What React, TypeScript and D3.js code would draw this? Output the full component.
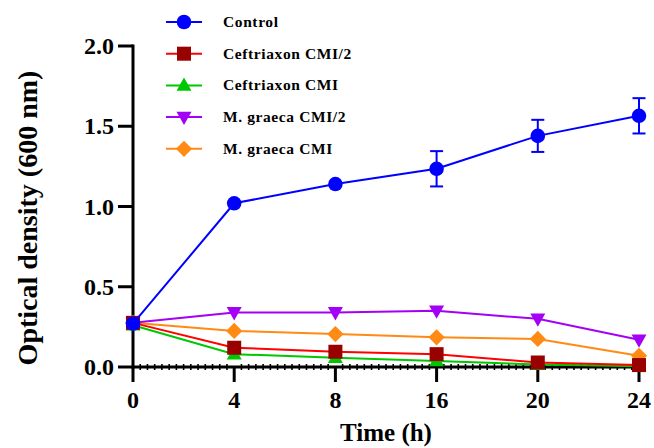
import React from "react";
import * as d3 from "d3";

const timeLabels = ["0", "4", "8", "16", "20", "24"];
const controlValues = [0.27, 1.02, 1.14, 1.235, 1.44, 1.565];
const controlErrors = [0, 0, 0, 0.11, 0.1, 0.11];
const ceftriaxonHalf = [0.275, 0.12, 0.095, 0.08, 0.028, 0.012];
const ceftriaxonFull = [0.26, 0.08, 0.058, 0.038, 0.015, 0.005];
const graecaHalf = [0.275, 0.34, 0.34, 0.35, 0.3, 0.17];
const graecaFull = [0.275, 0.225, 0.205, 0.185, 0.175, 0.07];
const yTicks = [0, 0.5, 1.0, 1.5, 2.0];

type Series = {
  name: string;
  values: number[];
  errors?: number[];
  line: string;
  fill: string;
  shape: "circle" | "square" | "triangle" | "triangleDown" | "diamond";
};

const seriesList: Series[] = [
  { name: "Control", values: controlValues, errors: controlErrors, line: "#0000FF", fill: "#0000FF", shape: "circle" },
  { name: "Ceftriaxon CMI/2", values: ceftriaxonHalf, line: "#FF0000", fill: "#990000", shape: "square" },
  { name: "Ceftriaxon CMI", values: ceftriaxonFull, line: "#00C800", fill: "#00C800", shape: "triangle" },
  { name: "M. graeca CMI/2", values: graecaHalf, line: "#A400F5", fill: "#A400F5", shape: "triangleDown" },
  { name: "M. graeca CMI", values: graecaFull, line: "#FF8A14", fill: "#FF8A14", shape: "diamond" },
];

const drawOrder = [4, 3, 2, 1, 0];

function Marker({ shape, x, y, fill, s }: { shape: string; x: number; y: number; fill: string; s: number }) {
  if (shape === "circle") return <circle cx={x} cy={y} r={s * 0.52} fill={fill} />;
  if (shape === "square")
    return <rect x={x - s / 2} y={y - s / 2} width={s} height={s} fill={fill} />;
  if (shape === "triangle") {
    const h = s * 0.95;
    return <path d={`M${x},${y - h * 0.6}L${x + s / 2 + 0.5},${y + h * 0.4}L${x - s / 2 - 0.5},${y + h * 0.4}Z`} fill={fill} />;
  }
  if (shape === "triangleDown") {
    const h = s * 0.95;
    return <path d={`M${x},${y + h * 0.6}L${x + s / 2 + 0.5},${y - h * 0.4}L${x - s / 2 - 0.5},${y - h * 0.4}Z`} fill={fill} />;
  }
  const r = s * 0.58;
  return <path d={`M${x},${y - r}L${x + r},${y}L${x},${y + r}L${x - r},${y}Z`} fill={fill} />;
}

export default function App() {
  const width = 654;
  const height = 448;
  const x = d3.scalePoint<string>().domain(timeLabels).range([133, 639]);
  const y = d3.scaleLinear().domain([0, 2]).range([367, 46]);
  const font = "'Liberation Serif', 'Times New Roman', serif";
  const line = d3
    .line<number>()
    .x((_, i) => x(timeLabels[i]) as number)
    .y((d) => y(d));

  const step = x.step();
  const minorTicks: number[] = [];
  for (let i = 0; i < timeLabels.length - 1; i++) {
    const x0 = x(timeLabels[i]) as number;
    for (let k = 1; k < 14; k++) minorTicks.push(x0 + (step * k) / 14);
  }

  return (
    <svg width={width} height={height} style={{ position: "absolute", left: 0, top: 0, background: "#fff" }}>
      {/* axes */}
      <line x1={133} x2={133} y1={y(2) - 1.5} y2={y(0) + 1.5} stroke="#000" strokeWidth={3} />
      <line x1={133} x2={640} y1={y(0)} y2={y(0)} stroke="#000" strokeWidth={3} />
      {yTicks.map((t) => (
        <g key={"y" + t}>
          <line x1={118} x2={133} y1={y(t)} y2={y(t)} stroke="#000" strokeWidth={3} />
          <text x={114} y={y(t) + 8} textAnchor="end" fontFamily={font} fontWeight="bold" fontSize={24} fill="#000">
            {t.toFixed(1)}
          </text>
        </g>
      ))}
      {minorTicks.map((mx, i) => (
        <line key={"m" + i} x1={mx} x2={mx} y1={y(0) - 3} y2={y(0) + 3} stroke="#000" strokeWidth={1.6} />
      ))}
      {timeLabels.map((t) => (
        <g key={"x" + t}>
          <line x1={x(t)} x2={x(t)} y1={y(0)} y2={y(0) + 15} stroke="#000" strokeWidth={3} />
          <text x={x(t)} y={408} textAnchor="middle" fontFamily={font} fontWeight="bold" fontSize={24} fill="#000">
            {t}
          </text>
        </g>
      ))}
      <text x={386} y={441} textAnchor="middle" fontFamily={font} fontWeight="bold" fontSize={25} fill="#000">
        Time (h)
      </text>
      <text
        transform={`translate(37,218) rotate(-90)`}
        textAnchor="middle"
        fontFamily={font}
        fontWeight="bold"
        fontSize={28}
        fill="#000"
      >
        Optical density (600 nm)
      </text>

      {/* series */}
      {drawOrder.map((si) => {
        const s = seriesList[si];
        return (
          <g key={s.name}>
            <path d={line(s.values) || ""} fill="none" stroke={s.line} strokeWidth={2} />
            {s.errors &&
              s.values.map((v, i) => {
                const e = s.errors![i];
                if (!e) return null;
                const cx = x(timeLabels[i]) as number;
                return (
                  <g key={"e" + i} stroke={s.line} strokeWidth={2}>
                    <line x1={cx} x2={cx} y1={y(v + e)} y2={y(v - e)} />
                    <line x1={cx - 6.5} x2={cx + 6.5} y1={y(v + e)} y2={y(v + e)} />
                    <line x1={cx - 6.5} x2={cx + 6.5} y1={y(v - e)} y2={y(v - e)} />
                  </g>
                );
              })}
            {s.values.map((v, i) => (
              <Marker key={i} shape={s.shape} x={x(timeLabels[i]) as number} y={y(v)} fill={s.fill} s={14} />
            ))}
          </g>
        );
      })}

      {/* legend */}
      {seriesList.map((s, i) => {
        const ly = 22 + i * 31.7;
        return (
          <g key={"l" + s.name}>
            <line x1={166} x2={202} y1={ly} y2={ly} stroke={s.line} strokeWidth={2} />
            <Marker shape={s.shape} x={184} y={ly} fill={s.fill} s={14} />
            <text x={223} y={ly + 5} fontFamily={font} fontWeight="bold" fontSize={15.5} letterSpacing={0.6} fill="#000">
              {s.name}
            </text>
          </g>
        );
      })}
    </svg>
  );
}
